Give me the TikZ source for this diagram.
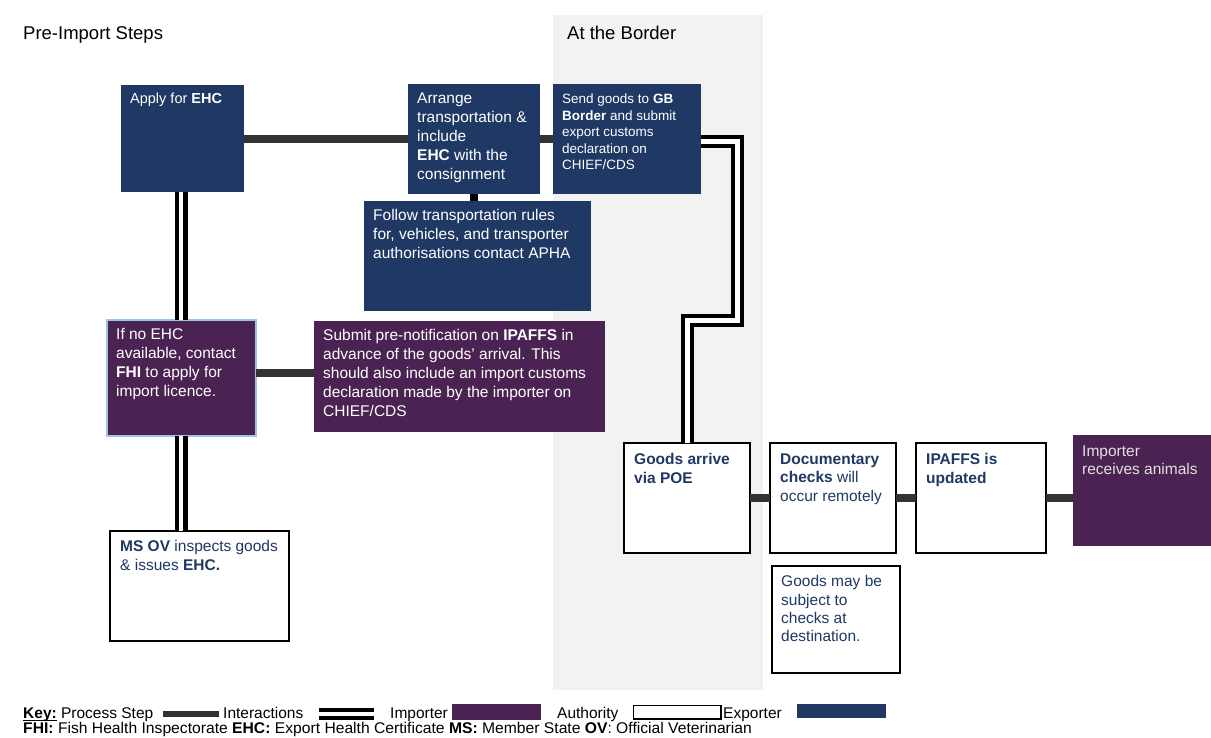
\documentclass[tikz,border=0pt]{standalone}
\usepackage{fontspec}
\setmainfont{Liberation Sans}
\usetikzlibrary{calc}
\definecolor{navy}{RGB}{31,56,100}
\definecolor{plum}{RGB}{75,35,82}
\definecolor{bandgray}{RGB}{242,242,242}
\definecolor{procline}{RGB}{51,51,51}
\definecolor{paleblue}{RGB}{157,195,230}
\definecolor{txtnavy}{RGB}{31,56,100}
\definecolor{softwhite}{RGB}{225,225,225}
\newcommand{\keyul}[1]{{\setbox0\hbox{#1}\rlap{\rule[-2.2pt]{\wd0}{0.9pt}}\box0}}
\tikzset{
  box/.style={rectangle, anchor=north west, inner sep=0pt, outer sep=0pt},
  expbox/.style={box, fill=navy},
  impbox/.style={box, fill=plum},
  authbox/.style={box, fill=white, draw=black, line width=2pt},
  txt/.style={anchor=north west, inner sep=0pt, align=left, font=\fontsize{15.5}{19}\selectfont},
  keytxt/.style={anchor=base west, inner sep=0pt, font=\fontsize{15.5}{18}\selectfont},
  proc/.style={draw=procline, line width=8pt},
  joinline/.style={draw=black, line width=8pt},
  inter/.style={draw=black, line width=4.3pt, double=white, double distance=4.4pt, line join=miter},
}
\begin{document}
\begin{tikzpicture}[x=1pt,y=-1pt]
\useasboundingbox (0,0) rectangle (1211,737);
% border band
\fill[bandgray] (553,15) rectangle (763,690);
\node[anchor=base west, inner sep=0pt, font=\fontsize{18.5}{22}\selectfont] (pre) at (23,39.5) {Pre-Import Steps};
\node[anchor=base west, inner sep=0pt, font=\fontsize{18.5}{22}\selectfont] (border) at (567,39.5) {At the Border};

% boxes
\node[expbox, minimum width=123pt, minimum height=107pt] (apply) at (121,85) {};
\node[expbox, minimum width=132pt, minimum height=110pt] (arrange) at (408,84) {};
\node[expbox, minimum width=148pt, minimum height=110pt] (send) at (553,84) {};
\node[expbox, minimum width=227pt, minimum height=110pt] (follow) at (364,201) {};
\node[impbox, draw=paleblue, line width=2pt, minimum width=149pt, minimum height=116pt] (ifno) at (107,320) {};
\node[impbox, minimum width=291pt, minimum height=111pt] (submit) at (314,321) {};
\node[authbox, minimum width=179pt, minimum height=110pt] (msov) at (110,531) {};
\node[authbox, minimum width=126pt, minimum height=110pt] (goods) at (624,443) {};
\node[authbox, minimum width=126pt, minimum height=110pt] (docs) at (770,443) {};
\node[authbox, minimum width=130pt, minimum height=110pt] (ipaffs) at (916,443) {};
\node[impbox, minimum width=138pt, minimum height=111pt] (importer) at (1073,435) {};
\node[authbox, minimum width=128pt, minimum height=107pt] (maybe) at (772,566) {};

% texts
\node[txt, text=white, font=\fontsize{14.5}{17.5}\selectfont] (applyT) at (130,92.5) {Apply for \textbf{EHC}};
\node[txt, text=white] (arrangeT) at (417,92.5) {Arrange\\transportation \&\\include\\\textbf{EHC} with the\\consignment};
\node[txt, text=white, font=\fontsize{13.5}{16.4}\selectfont] (sendT) at (562,94) {Send goods to \textbf{GB}\\\textbf{Border} and submit\\export customs\\declaration on\\CHIEF/CDS};
\node[txt, text=white] (followT) at (373,209.5) {Follow transportation rules\\for, vehicles, and transporter\\authorisations contact APHA};
\node[txt, text=white] (ifnoT) at (116,328.5) {If no EHC\\available, contact\\\textbf{FHI} to apply for\\import licence.};
\node[txt, text=white] (submitT) at (323,329.5) {Submit pre-notification on \textbf{IPAFFS} in\\advance of the goods’ arrival. This\\should also include an import customs\\declaration made by the importer on\\CHIEF/CDS};
\node[txt, text=txtnavy] (msovT) at (120,540.5) {\textbf{MS OV} inspects goods\\\& issues \textbf{EHC.}};
\node[txt, text=txtnavy, font=\fontsize{15.5}{18.5}\selectfont] (goodsT) at (634,453.5) {\textbf{Goods arrive}\\\textbf{via POE}};
\node[txt, text=txtnavy, font=\fontsize{15.5}{18.5}\selectfont] (docsT) at (780,453.5) {\textbf{Documentary}\\\textbf{checks} will\\occur remotely};
\node[txt, text=txtnavy, font=\fontsize{15.5}{18.5}\selectfont] (ipaffsT) at (926,453.5) {\textbf{IPAFFS is}\\\textbf{updated}};
\node[txt, text=softwhite, font=\fontsize{15.5}{18.5}\selectfont] (importerT) at (1082,445.5) {Importer\\receives animals};
\node[txt, text=txtnavy, font=\fontsize{15.5}{18.3}\selectfont] (maybeT) at (781,575.5) {Goods may be\\subject to\\checks at\\destination.};

% connectors
\coordinate (vx) at (181,0);
\draw[proc] (apply.east) -- (apply.east -| arrange.west);
\draw[proc] (arrange.east) -- (arrange.east -| send.west);
\draw[joinline] (arrange.south) -- (arrange.south |- follow.north);
\draw[inter] (apply.south -| vx) -- (ifno.north -| vx);
\draw[inter] (ifno.south -| vx) -- (msov.north -| vx);
\draw[proc] ([yshift=5pt]ifno.east) -- ([yshift=5pt]ifno.east -| submit.west);
\coordinate (bend) at (737.5,320);
\draw[inter, line width=4pt, double distance=5pt] ([yshift=-2pt]send.east) -| (bend) -| (goods.north);
\draw[proc] (goods.east) -- (docs.west);
\draw[proc] (docs.east) -- (ipaffs.west);
\draw[proc] (ipaffs.east) -- (ipaffs.east -| importer.west);

% key
\node[keytxt] (k1) at (23,718.5) {\keyul{\textbf{Key:}} Process Step};
\draw[procline, line width=6pt] (163,713.5) -- (219,713.5);
\node[keytxt] (k2) at (223,718.5) {Interactions};
\draw[black, line width=4pt, double=white, double distance=4pt] (319,714) -- (374,714);
\node[keytxt] (k3) at (390,718.5) {Importer};
\fill[plum] (452.3,704.3) rectangle (540.7,720.3);
\node[keytxt] (k4) at (557,718.5) {Authority};
\draw[black, line width=1.4pt, fill=white] (633.5,705.5) rectangle (721,719);
\node[keytxt] (k5) at (723,718.5) {Exporter};
\fill[navy] (796.7,703.5) rectangle (885.7,717.5);
\node[keytxt] (k6) at (23,733.8) {\scalebox{1.011}[1]{\textbf{FHI:} Fish Health Inspectorate \textbf{EHC:} Export Health Certificate \textbf{MS:} Member State \textbf{OV}: Official Veterinarian}};
\end{tikzpicture}
\end{document}
